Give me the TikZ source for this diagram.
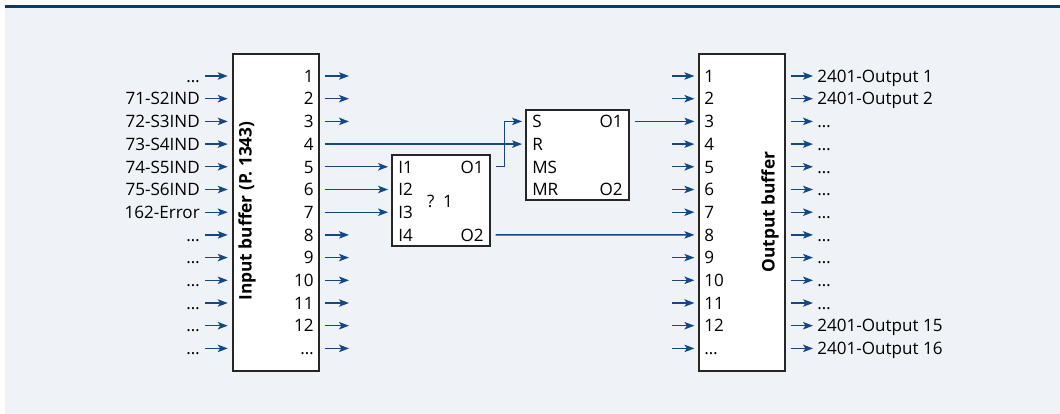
\documentclass[tikz,border=0pt]{standalone}
\usepackage{fontspec}
\setmainfont{Open Sans}
\usetikzlibrary{arrows.meta, positioning}
\definecolor{panel}{HTML}{EFF3F7}
\definecolor{topline}{HTML}{0F3A66}
\definecolor{sigblue}{HTML}{174685}
\tikzset{
  % Boxes
  buffer/.style={rectangle, draw=black!85, fill=white, line width=0.9pt, minimum width=64.5pt, minimum height=237.75pt},
  gate/.style={rectangle, draw=black!85, fill=white, line width=0.9pt},
  % Texts
  plab/.style={inner sep=0pt, text height=9.4pt, text depth=0pt, font=\fontsize{12.8}{15}\selectfont},
  bufname/.style={inner sep=0pt, font=\fontsize{13}{15}\selectfont\bfseries},
  % Connectors
  sig/.style={-{Stealth[length=7.5pt, width=5.6pt, inset=1.8pt]}, draw=sigblue, line width=1pt},
  link/.style={sig, shorten <=3.75pt, shorten >=2.5pt},
}

\begin{document}
\begin{tikzpicture}[x=0.75pt, y=-0.75pt]
    \useasboundingbox (0,0) rectangle (1060,414);
    % Panel
    \fill[panel] (5,8) rectangle (1060,414);
    \draw[topline, line width=2.3pt] (5,6.5) -- (1060,6.5);

    % Buffers and function blocks
    \node[buffer] (inbuf) at (276,212.5) {};
    \node[buffer] (outbuf) at (742,212.5) {};
    \node[gate, minimum width=73.5pt, minimum height=68.25pt] (logic) at (441,200.5) {};
    \node[gate, minimum width=77.25pt, minimum height=67.5pt] (sr) at (577.5,155) {};
    \node[bufname, rotate=90] (intitle) at (247,211) {Input buffer (P. 1343)};
    \node[bufname, rotate=90] (outtitle) at (770,212) {Output buffer};

    % Input buffer
    \foreach \lab [count=\i] in {\dots, 71-S2IND, 72-S3IND, 73-S4IND, 74-S5IND, 75-S6IND, 162-Error, \dots, \dots, \dots, \dots, \dots, \dots} {
      \node[plab, anchor=east] (il\i) at (200,{76+(\i-1)*22.7}) {\lab};
      \draw[sig, shorten <=3.75pt, shorten >=3.5pt] (il\i.east) -- (inbuf.west |- il\i);
    }
    \foreach \lab [count=\i] in {1,2,3,4,5,6,7,8,9,10,11,12,\dots}
      \node[plab, anchor=east] (in\i) at (314,{76+(\i-1)*22.7}) {\lab};
    \foreach \i in {1,2,3,8,9,10,11,12,13} {
      \coordinate (io\i) at (349,{76+(\i-1)*22.7});
      \draw[sig, shorten <=3.75pt] (inbuf.east |- io\i) -- (io\i);
    }

    % Function block
    \foreach \lab [count=\i from 5] in {I1,I2,I3,I4}
      \node[plab, anchor=west] (l\lab) at (398,{76+(\i-1)*22.7}) {\lab};
    \node[plab, anchor=east] (lO1) at (484,166.8) {O1};
    \node[plab, anchor=east] (lO2) at (484,234.9) {O2};
    \node[plab] (lfn) at (440,201.5) {?\enspace1};

    % Flip-flop
    \foreach \lab [count=\i from 3] in {S,R,MS,MR}
      \node[plab, anchor=west] (s\lab) at (532,{76+(\i-1)*22.7}) {\lab};
    \node[plab, anchor=east] (sO1) at (623,121.4) {O1};
    \node[plab, anchor=east] (sO2) at (623,189.5) {O2};

    % Output buffer
    \foreach \lab [count=\i] in {1,2,3,4,5,6,7,8,9,10,11,12,\dots}
      \node[plab, anchor=west] (on\i) at (704,{76+(\i-1)*22.7}) {\lab};
    \foreach \i in {1,2,4,5,6,7,9,10,11,12,13} {
      \coordinate (oi\i) at (672,{76+(\i-1)*22.7});
      \draw[sig, shorten >=3pt] (oi\i) -- (outbuf.west |- oi\i);
    }
    \foreach \lab [count=\i] in {2401-Output 1, 2401-Output 2, \dots, \dots, \dots, \dots, \dots, \dots, \dots, \dots, \dots, 2401-Output 15, 2401-Output 16} {
      \node[plab, anchor=west] (ol\i) at (817,{76+(\i-1)*22.7}) {\lab};
      \draw[sig, shorten <=3.75pt, shorten >=3pt] (outbuf.east |- ol\i) -- (ol\i.west);
    }

    % Links
    \draw[link] (inbuf.east |- in4) -- (sr.west |- sR);
    \draw[link] (inbuf.east |- in5) -- (logic.west |- lI1);
    \draw[link] (inbuf.east |- in6) -- (logic.west |- lI2);
    \draw[link] (inbuf.east |- in7) -- (logic.west |- lI3);
    \draw[link] (logic.east |- lO1) -- ++(14,0) |- (sr.west |- sS);
    \draw[link, shorten >=3pt] (sr.east |- sO1) -- (outbuf.west |- on3);
    \draw[link, shorten >=3pt] (logic.east |- lO2) -- (outbuf.west |- on8);
\end{tikzpicture}
\end{document}
